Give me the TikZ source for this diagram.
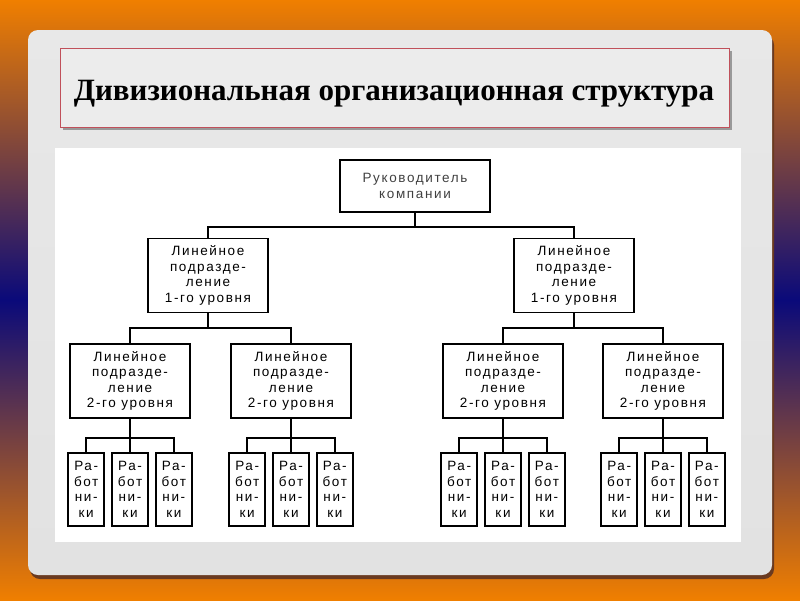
\documentclass[tikz,border=0pt]{standalone}
\usepackage{fontspec}
\setmainfont{Liberation Serif}
\newfontfamily\boxfont{Liberation Sans}[LetterSpace=12]
\usetikzlibrary{positioning}

\definecolor{bgorange}{HTML}{F07F00}
\definecolor{bgnavy}{HTML}{0A0A7A}
\definecolor{panelgray}{HTML}{E2E2E2}
\definecolor{titlegray}{HTML}{ECECEC}
\definecolor{titleline}{HTML}{C0505A}
\definecolor{shadowbrown}{HTML}{6A3A20}

\begin{document}
\begin{tikzpicture}[
        x=1pt, y=-1pt,
        every node/.style={font=\boxfont\fontsize{13.5}{15.5}\selectfont, inner sep=0pt},
        box/.style={rectangle, draw, line width=1.8pt, fill=white, align=center, minimum width=120pt, minimum height=74pt},
        topbox/.style={box, minimum width=150pt, minimum height=52pt, text=black!75},
        worker/.style={box, minimum width=36pt, minimum height=73pt},
        link/.style={line width=1.7pt}
    ]
        % background and slide panel
        \shade[top color=bgorange, bottom color=bgorange, middle color=bgnavy] (0,0) rectangle (800,600);
        \useasboundingbox (0,0) rectangle (800,600);
        \fill[shadowbrown, rounded corners=10pt] (30,35) rectangle (774,579);
        \shade[top color=panelgray!80!white, bottom color=panelgray, rounded corners=10pt] (28,30) rectangle (772,575);
        \fill[black!40] (63,51) rectangle (732,130);
        \draw[titleline, fill=titlegray, line width=0.8pt] (60,48) rectangle (729,127);
        \fill[white] (55,148) rectangle (741,542);

        \node[font=\rmfamily\bfseries\fontsize{31}{36}\selectfont] (title) at (394,94) {Дивизиональная организационная структура};

        % chart
        \node[topbox] (boss) at (415,186) {Руководитель\\компании};
        \node[box] (div1) at (208,275.5) {Линейное\\подразде-\\ление\\1-го уровня};
        \node[box] (div2) at (574,275.5) {Линейное\\подразде-\\ление\\1-го уровня};
        \node[box] (sub11) at (130,381) {Линейное\\подразде-\\ление\\2-го уровня};
        \node[box] (sub12) at (291,381) {Линейное\\подразде-\\ление\\2-го уровня};
        \node[box] (sub21) at (503,381) {Линейное\\подразде-\\ление\\2-го уровня};
        \node[box] (sub22) at (663,381) {Линейное\\подразде-\\ление\\2-го уровня};

        \draw[link] (boss.south) -- ++(0,14) coordinate (bossj) -| (div1.north);
        \draw[link] (bossj) -| (div2.north);
        \draw[link] (div1.south) -- ++(0,14.5) coordinate (div1j) -| (sub11.north);
        \draw[link] (div1j) -| (sub12.north);
        \draw[link] (div2.south) -- ++(0,14.5) coordinate (div2j) -| (sub21.north);
        \draw[link] (div2j) -| (sub22.north);

        \foreach \s in {sub11,sub12,sub21,sub22} {
            \node[worker, below=33pt of \s] (\s w2) {Ра-\\бот\\ни-\\ки};
            \node[worker, left=6pt of \s w2] (\s w1) {Ра-\\бот\\ни-\\ки};
            \node[worker, right=6pt of \s w2] (\s w3) {Ра-\\бот\\ни-\\ки};
            \draw[link] (\s.south) -- (\s w2.north);
            \draw[link] (\s w1.north) -- ++(0,-14) -| (\s w3.north);
        }
    \end{tikzpicture}
\end{document}
